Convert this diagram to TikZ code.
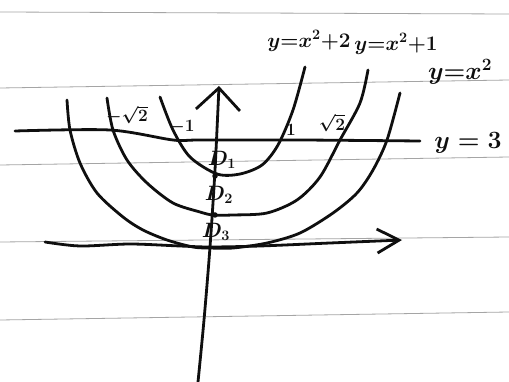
\documentclass[tikz,border=0pt]{standalone}
\usepackage{amsmath,amssymb}
\usepackage{tikz}
\usetikzlibrary{arrows.meta,calc}
\definecolor{ink}{RGB}{15,15,15}
\definecolor{ruling}{RGB}{165,165,165}
\tikzset{
  curve/.style={draw=ink,line width=2.8pt,line cap=round,line join=round},
  ruleline/.style={draw=ruling,line width=0.8pt},
  eqlabel/.style={text=ink,inner sep=0pt,font=\fontsize{21}{23}\selectfont\boldmath},
  biglabel/.style={text=ink,inner sep=0pt,font=\fontsize{24}{26}\selectfont\boldmath},
  ticklabel/.style={text=ink,inner sep=0pt,font=\fontsize{16}{18}\selectfont\boldmath},
  regionlabel/.style={text=ink,inner sep=0pt,font=\fontsize{22}{24}\selectfont\boldmath},
  vertex/.style={circle,fill=ink,inner sep=0pt,minimum size=5.5pt}
}

\begin{document}
\begin{tikzpicture}[x=1pt,y=-1pt]
  \useasboundingbox[fill=white] (0,0) rectangle (509,382);
  % ruled paper
  \draw[ruleline] (0,12) -- (509,14);
  \draw[ruleline] (0,88) -- (509,80);
  \draw[ruleline] (0,165) -- (509,157);
  \draw[ruleline] (0,242) -- (509,237);
  \draw[ruleline] (0,320) -- (509,312);

  % axes
  \coordinate (O) at (210,247);
  \draw[curve,-{Straight Barb[length=22pt,width=44pt]}] plot[smooth] coordinates {(198,382) (204,320) (O) (215,170) (219,86)};
  \draw[curve,-{Straight Barb[length=22pt,width=24pt]}] plot[smooth] coordinates {(45,242) (80,246) (130,244) (180,246) (O) (260,246) (330,243) (402,240)};

  % y = 3
  \draw[curve] plot[smooth] coordinates {(15,131) (110,130) (173,140) (200,140) (300,140) (420,141)};

  % parabolas
  \draw[curve] plot[smooth] coordinates {(67,100) (70,130) (80,163) (97,193) (123,217) (143,230) (167,240) (193,247) (210,248) (233,248) (267,243) (300,233) (333,213) (357,193) (373,170) (387,140) (400,93)};
  \draw[curve] plot[smooth] coordinates {(107,98) (113,130) (127,160) (147,183) (173,203) (200,212) (213,215) (233,215) (267,213) (297,200) (320,177) (340,140) (360,103) (368,70)};
  \draw[curve] plot[smooth] coordinates {(160,97) (173,130) (190,157) (217,174) (240,174) (262,165) (278,145) (293,110) (305,67)};

  \node[vertex] (v2) at (215,176) {};
  \node[vertex] (v1) at (215,215) {};

  % labels
  \node[eqlabel] (eqtwo) at (309,41) {$y{=}x^2{+}2$};
  \node[eqlabel] (eqone) at (396,44) {$y{=}x^2{+}1$};
  \node[biglabel] (eqzero) at (460,72) {$y{=}x^2$};
  \node[biglabel] (eqthree) at (468,143) {$y=3$};

  \node[ticklabel] (mroot) at (127,115) {$-\sqrt{2}$};
  \node[ticklabel] (mone) at (182,127) {$-1$};
  \node[ticklabel] (one) at (291,130) {$1$};
  \node[ticklabel] (root) at (332,123) {$\sqrt{2}$};

  \node[regionlabel] (Done) at (222,160) {$D_1$};
  \node[regionlabel] (Dtwo) at (219,195) {$D_2$};
  \node[regionlabel] (Dthree) at (216,232) {$D_3$};
\end{tikzpicture}
\end{document}
